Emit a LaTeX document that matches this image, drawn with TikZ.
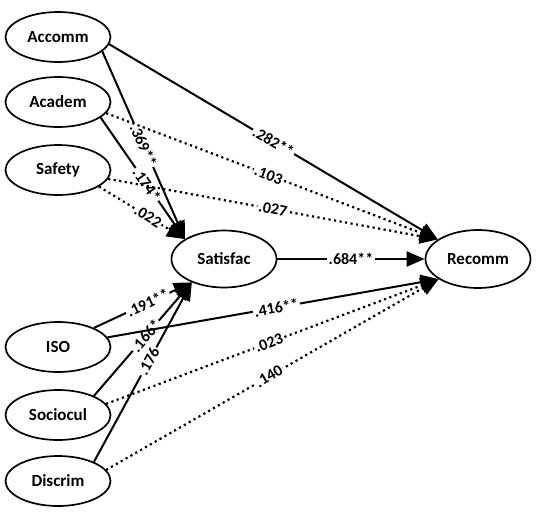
\documentclass[tikz,border=0pt]{standalone}
\usepackage{fontspec}
\setmainfont{Carlito}
\usetikzlibrary{arrows.meta,shapes.geometric}

\begin{document}
\begin{tikzpicture}[x=1pt,y=-1pt,>={Triangle[length=18pt,width=15pt]},
    var/.style={draw,ellipse,line width=1.7pt,minimum width=105pt,minimum height=50pt,
      font=\fontsize{17}{17}\selectfont\bfseries},
    sig/.style={line width=2pt},
    ns/.style={line width=2.2pt,dash pattern=on 2.2pt off 3.4pt},
    coef/.style={sloped,fill=white,inner sep=1.5pt,font=\fontsize{16}{16}\selectfont\bfseries}]
    \useasboundingbox (0,0) rectangle (536,515);

    \node[var] (accomm)   at (58,37)  {Accomm};
    \node[var] (academ)   at (58,102) {Academ};
    \node[var] (safety)   at (58,170) {Safety};
    \node[var] (iso)      at (58,347) {ISO};
    \node[var] (sociocul) at (58,415) {Sociocul};
    \node[var] (discrim)  at (58,481) {Discrim};
    \node[var,minimum height=57pt] (satisfac) at (224,259) {Satisfac};
    \node[var,minimum height=58pt] (recomm)   at (478,259) {Recomm};

    % paths into Satisfac
    \path[->]
    (accomm.-18)  edge [sig] node[coef,pos=.5]  {.369**} (satisfac.153)
    (academ.-20)  edge [sig] node[coef,pos=.55] {.174*}  (satisfac.153)
    (safety.-22)  edge [ns]  node[coef,pos=.57] {.022}   (satisfac.153)
    (iso.28)      edge [sig] node[coef,pos=.55] {.191**} (satisfac.216)
    (sociocul.28) edge [sig] node[coef,pos=.53] {.166*}  (satisfac.216)
    (discrim.28)  edge [sig] node[coef,pos=.56] {.176}   (satisfac.216)
    ;

    % paths into Recomm
    \path[->]
    (accomm.-8)   edge [sig] node[coef,pos=.5]  {.282**} (recomm.154)
    (academ.-13)  edge [ns]  node[coef,pos=.49] {.103}   (recomm.154)
    (safety.-10)  edge [ns]  node[coef,pos=.5]  {.027}   (recomm.154)
    (satisfac)    edge [sig] node[coef,pos=.5]  {.684**} (recomm)
    (iso.11)      edge [sig] node[coef,pos=.51] {.416**} (recomm.207)
    (sociocul.13) edge [ns]  node[coef,pos=.49] {.023}   (recomm.207)
    (discrim.13)  edge [ns]  node[coef,pos=.49] {.140}   (recomm.207)
    ;
\end{tikzpicture}
\end{document}
